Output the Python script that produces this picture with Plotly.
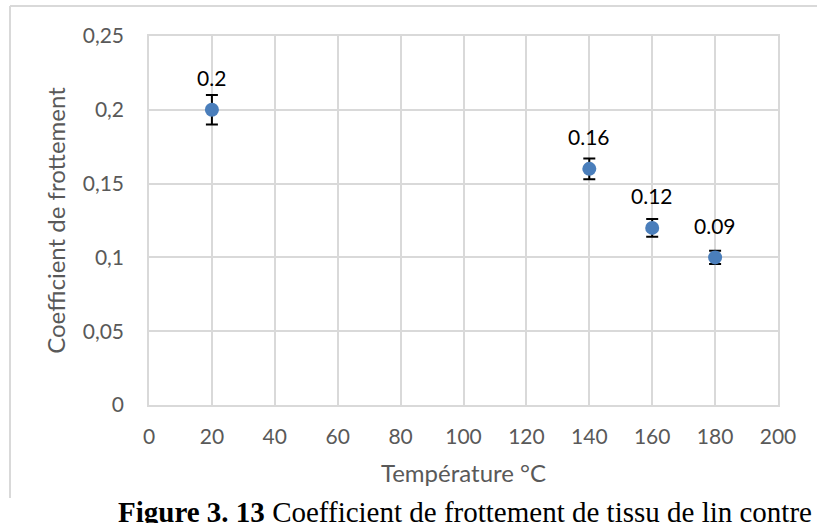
import plotly.graph_objects as go

# Data
temperature = [20, 140, 160, 180]
coefficient = [0.20, 0.16, 0.12, 0.10]
error = [0.010, 0.007, 0.006, 0.0045]
point_labels = ["0.2", "0.16", "0.12", "0.09"]

x_ticks = [0, 20, 40, 60, 80, 100, 120, 140, 160, 180, 200]
y_ticks = [0, 0.05, 0.10, 0.15, 0.20, 0.25]

grid = "#d9d9d9"
sans = "Lato, 'Open Sans', sans-serif"
tick_font = dict(family=sans, size=21, color="#595959")
title_font = dict(family=sans, size=24, color="#595959")

fig = go.Figure()

fig.add_trace(
    go.Scatter(
        x=temperature,
        y=coefficient,
        mode="markers",
        marker=dict(size=14, color="#4a7ebb"),
        error_y=dict(type="data", array=error, visible=True,
                     color="black", thickness=2, width=6),
        showlegend=False,
    )
)

# Data labels above each point
for x, y, label in zip(temperature, coefficient, point_labels):
    fig.add_annotation(
        x=x, y=y, text=label, showarrow=False, yshift=32,
        font=dict(family=sans, size=21, color="black"),
    )

# Caption under the chart (cut off on the right as in the source)
fig.add_annotation(
    xref="paper", yref="paper", x=-0.052, y=-0.24,
    xanchor="left", yanchor="top", showarrow=False,
    text="<b>Figure 3. 13</b> Coefficient de frottement de tissu de lin contre",
    font=dict(family="Liberation Serif, 'Times New Roman', serif", size=29, color="black"),
)

# Outer chart border (left and top edges visible)
fig.add_shape(type="line", xref="paper", yref="paper",
              x0=-0.221, x1=1.1, y0=1.0813, y1=1.0813,
              line=dict(color=grid, width=2))
fig.add_shape(type="line", xref="paper", yref="paper",
              x0=-0.221, x1=-0.221, y0=1.0813, y1=-0.252,
              line=dict(color=grid, width=2))

fig.update_layout(
    width=817,
    height=523,
    margin=dict(l=149, r=39, t=36, b=118),
    paper_bgcolor="white",
    plot_bgcolor="white",
    separators=", ",
    xaxis=dict(
        range=[0, 200],
        tickvals=x_ticks,
        showgrid=True, gridcolor=grid, gridwidth=1.5,
        zeroline=False,
        showline=True, linecolor=grid, linewidth=1.5, mirror=True,
        ticks="outside", ticklen=12, tickcolor="rgba(0,0,0,0)",
        tickfont=tick_font,
        title=dict(text="Température °C", font=title_font, standoff=18),
    ),
    yaxis=dict(
        range=[0, 0.25],
        tickvals=y_ticks,
        showgrid=True, gridcolor=grid, gridwidth=1.5,
        zeroline=False,
        showline=True, linecolor=grid, linewidth=1.5, mirror=True,
        ticks="outside", ticklen=19, tickcolor="rgba(0,0,0,0)",
        tickfont=tick_font,
        title=dict(text="Coefficient de frottement", font=title_font, standoff=10),
    ),
)

fig.write_html(
    "out.html",
    config={"displayModeBar": False},
    post_script="document.body.style.margin = '0';",
)
